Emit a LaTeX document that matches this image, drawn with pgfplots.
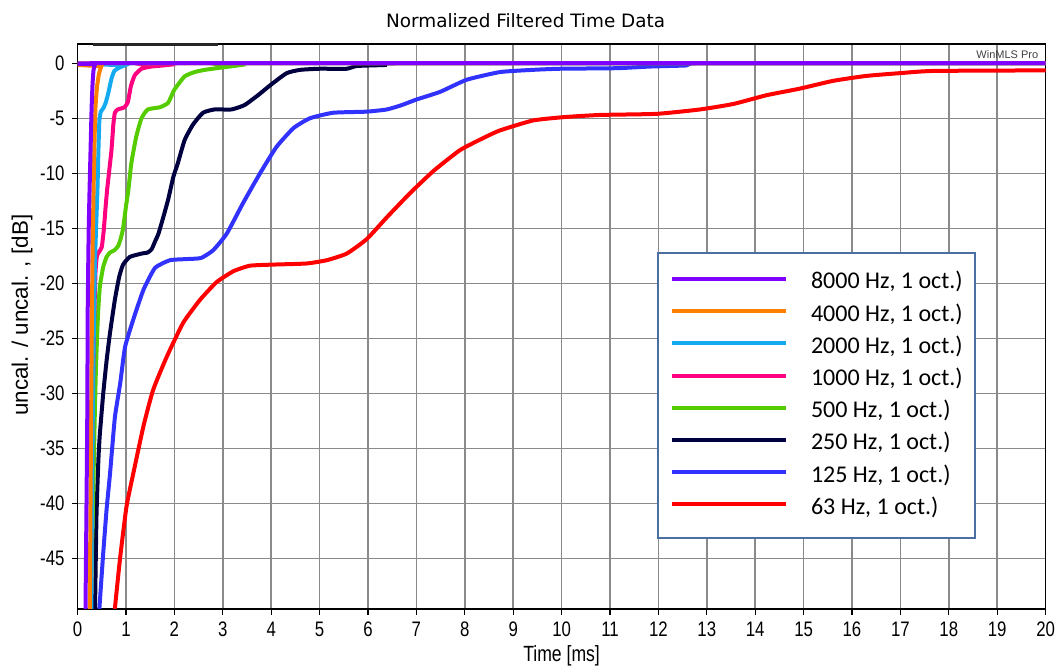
\documentclass[border=0pt]{standalone}
\usepackage{fontspec}
\setmainfont{Liberation Sans}
\newfontfamily\narrowfont{Liberation Sans}[FakeStretch=0.8]
\newfontfamily\legendfont{Carlito}
\newfontfamily\titlefont{DejaVu Sans}
\usepackage{pgfplots}
\pgfplotsset{compat=1.18}

\definecolor{c8000}{RGB}{128,0,255}
\definecolor{c4000}{RGB}{255,128,0}
\definecolor{c2000}{RGB}{20,170,240}
\definecolor{c1000}{RGB}{255,0,128}
\definecolor{c500}{RGB}{85,204,0}
\definecolor{c250}{RGB}{0,0,64}
\definecolor{c125}{RGB}{50,50,255}
\definecolor{c63}{RGB}{255,0,0}
\definecolor{gridgray}{RGB}{138,138,138}
\definecolor{legblue}{RGB}{74,111,160}

\begin{document}
\begin{tikzpicture}
\begin{axis}[
  name=main,
  scale only axis,
  width=484pt, height=282.5pt,
  xmin=0, xmax=20, ymin=-49.6, ymax=1.75,
  xtick={0,1,...,20},
  ytick={-45,-40,...,0},
  yticklabels={-45,-40,-35,-30,-25,-20,-15,-10,-5,0},
  grid=major,
  grid style={gridgray, line width=0.75pt},
  axis line style={black, line width=0.8pt},
  tick pos=left, tick align=outside,
  major tick length=3pt,
  tick style={black, line width=0.6pt},
  /pgf/number format/assume math mode=true,
  tick label style={font=\narrowfont\fontsize{10.5}{12}\selectfont},
  title={Normalized Filtered Time Data},
  title style={font=\titlefont\fontsize{9.2}{11}\selectfont, at={(0.5,1)}, anchor=base, yshift=2pt, xshift=-18pt},
  xlabel={Time [ms]},
  xlabel style={font=\narrowfont\fontsize{11}{13}\selectfont, at={(0.5,0)}, anchor=base, yshift=-26.5pt},
  ylabel={uncal. / uncal. , [dB]},
  ylabel style={font=\fontsize{11.2}{13}\selectfont, at={(0,0.52)}, anchor=center, yshift=27.8pt},
  reverse legend,
  legend cell align=left,
  legend image code/.code={\draw[#1, line width=2pt] (0pt,2pt) -- (57pt,2pt);},
  legend style={
    at={(0.5986,0.6319)}, anchor=north west,
    draw=legblue, line width=1pt, fill=white,
    inner xsep=6pt, inner ysep=9pt,
    row sep=4.1pt,
    font=\legendfont\fontsize{12}{14}\selectfont,
    nodes={inner sep=0pt, text height=9pt, text depth=3pt},
    /tikz/every odd column/.append style={column sep=11.5pt},
  },
  every axis plot/.append style={line width=2pt, smooth, tension=0.3},
]
\addplot[c63] coordinates {
(0.76,-51) (0.77,-49.6) (0.88,-44.9) (1.01,-40.3) (1.15,-37.3) (1.36,-33.0)
(1.56,-29.7) (1.84,-26.7) (2.18,-23.6) (2.53,-21.5) (2.87,-19.9) (3.22,-18.9)
(3.56,-18.4) (4.04,-18.3) (4.73,-18.2) (5.15,-17.9) (5.56,-17.3) (5.97,-16.0)
(6.39,-14.0) (6.87,-11.8) (7.35,-9.8) (7.90,-7.9) (8.38,-6.8) (8.73,-6.1)
(9.41,-5.2) (10.04,-4.9) (10.79,-4.7) (11.96,-4.6) (12.86,-4.2) (13.55,-3.7)
(14.24,-2.9) (14.93,-2.3) (15.61,-1.6) (16.30,-1.15) (16.99,-0.9) (17.68,-0.7)
(20,-0.65)
};
\addlegendentry{63 Hz, 1 oct.)}
\addplot[c125] coordinates {
(0.44,-51) (0.45,-49.6) (0.53,-44.5) (0.60,-40.5) (0.67,-37.3) (0.77,-32.2)
(0.88,-29.1) (0.98,-25.8) (1.15,-23.3) (1.36,-20.6) (1.60,-18.6) (1.91,-17.9)
(2.25,-17.8) (2.55,-17.7) (2.80,-17.0) (3.08,-15.5) (3.42,-12.7) (3.77,-10.0)
(4.11,-7.6) (4.46,-5.9) (4.80,-5.0) (5.28,-4.5) (5.97,-4.4) (6.39,-4.2)
(6.70,-3.8) (7.00,-3.3) (7.49,-2.6) (8.04,-1.5) (8.73,-0.8) (9.41,-0.6)
(9.97,-0.5) (11.14,-0.45) (11.83,-0.3) (12.58,-0.2) (12.8,0) (20,0)
};
\addlegendentry{125 Hz, 1 oct.)}
\addplot[c250] coordinates {
(0.35,-51) (0.36,-49.6) (0.39,-41.2) (0.43,-36) (0.46,-33.7) (0.53,-30)
(0.60,-27) (0.67,-24.5) (0.77,-21.5) (0.86,-19.4) (0.94,-18.3) (1.08,-17.6)
(1.32,-17.3) (1.45,-17.2) (1.53,-16.9) (1.60,-16.2) (1.67,-15.5) (1.77,-14)
(1.87,-12.4) (1.98,-10.3) (2.07,-9.1) (2.21,-7.0) (2.38,-5.6) (2.59,-4.5)
(2.83,-4.2) (3.18,-4.2) (3.45,-3.8) (3.73,-2.9) (3.98,-2.0) (4.32,-0.9)
(4.60,-0.6) (5.00,-0.5) (5.56,-0.5) (5.77,-0.25) (6.39,-0.15) (6.6,0) (20,0)
};
\addlegendentry{250 Hz, 1 oct.)}
\addplot[c500] coordinates {
(0.26,-51) (0.27,-49.6) (0.32,-39.7) (0.35,-33) (0.38,-27.6) (0.42,-23)
(0.46,-20.3) (0.53,-18.5) (0.60,-17.6) (0.67,-17.2) (0.76,-17.0) (0.84,-16.6)
(0.90,-15.8) (0.94,-15.0) (1.00,-13) (1.05,-11.5) (1.11,-9.1) (1.21,-6.7)
(1.32,-5.0) (1.45,-4.2) (1.70,-4.0) (1.87,-3.6) (2.00,-2.4) (2.21,-1.2)
(2.42,-0.8) (2.63,-0.6) (2.96,-0.4) (3.31,-0.2) (3.5,0) (20,0)
};
\addlegendentry{500 Hz, 1 oct.)}
\addplot[c1000] coordinates {
(0.27,-51) (0.29,-40) (0.31,-32) (0.34,-24) (0.37,-19) (0.40,-17.5)
(0.45,-17.1) (0.50,-16.7) (0.54,-15.2) (0.58,-13) (0.61,-11.5) (0.66,-9.5)
(0.70,-7.9) (0.74,-5.5) (0.77,-4.5) (0.83,-4.2) (0.97,-4.0) (1.04,-3.5)
(1.10,-2.1) (1.18,-1.1) (1.32,-0.5) (1.52,-0.3) (1.76,-0.2) (2.0,0) (20,0)
};
\addlegendentry{1000 Hz, 1 oct.)}
\addplot[c2000] coordinates {
(0.28,-51) (0.30,-38) (0.33,-26) (0.36,-18) (0.39,-14) (0.41,-11.5)
(0.43,-8) (0.45,-5.2) (0.48,-4.4) (0.53,-4.1) (0.58,-3.6) (0.64,-2.6)
(0.70,-1.4) (0.76,-0.7) (0.86,-0.4) (0.97,-0.2) (1.05,0) (20,0)
};
\addlegendentry{2000 Hz, 1 oct.)}
\addplot[c4000] coordinates {
(0.25,-51) (0.27,-38) (0.29,-26) (0.31,-17) (0.33,-11.5) (0.35,-7)
(0.37,-4) (0.40,-2.2) (0.44,-1.0) (0.49,-0.3) (0.55,0) (20,0)
};
\addlegendentry{4000 Hz, 1 oct.)}
\addplot[c8000] coordinates {
(0.16,-51) (0.18,-42) (0.20,-32) (0.21,-22) (0.23,-15) (0.25,-11)
(0.27,-7.5) (0.29,-4) (0.31,-1.8) (0.33,-0.6) (0.36,-0.1) (0.38,0) (20,0)
};
\addlegendentry{8000 Hz, 1 oct.)}
\node[anchor=north east, inner sep=0pt, text=black!75, font=\fontsize{5.5}{6.5}\selectfont]
  at ([shift={(-3.5pt,-3pt)}]rel axis cs:1,1) {WinMLS Pro};
\end{axis}
\draw[black!85, line width=1.5pt] ([shift={(7.7pt,-0.5pt)}]main.north west) -- ([shift={(70.2pt,-0.5pt)}]main.north west);
\pgfresetboundingbox
\path ([shift={(-38.8pt,-28.5pt)}]main.south west) rectangle ([shift={(5.7pt,22pt)}]main.north east);
\end{tikzpicture}
\end{document}
